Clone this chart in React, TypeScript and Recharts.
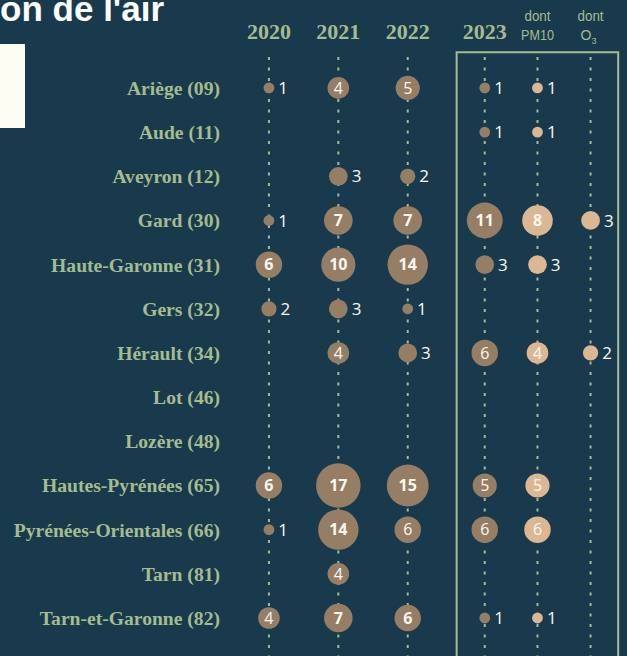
import { ScatterChart, Scatter, XAxis, YAxis, ReferenceLine, ReferenceArea } from "recharts";

const BG = "#193a4d";
const GREEN = "#a5bc8e";
const BROWN = "#967e65";
const TAN = "#dbb792";

const DEPTS = [
  "Ariège (09)",
  "Aude (11)",
  "Aveyron (12)",
  "Gard (30)",
  "Haute-Garonne (31)",
  "Gers (32)",
  "Hérault (34)",
  "Lot (46)",
  "Lozère (48)",
  "Hautes-Pyrénées (65)",
  "Pyrénées-Orientales (66)",
  "Tarn (81)",
  "Tarn-et-Garonne (82)",
];

const COLUMNS = ["2020", "2021", "2022", "2023", "PM10", "O3"];

const V2020 = [1, null, null, 1, 6, 2, null, null, null, 6, 1, null, 4];
const V2021 = [4, null, 3, 7, 10, 3, 4, null, null, 17, 14, 4, 7];
const V2022 = [5, null, 2, 7, 14, 1, 3, null, null, 15, 6, null, 6];
const V2023 = [1, 1, null, 11, 3, null, 6, null, null, 5, 6, null, 1];
const VPM10 = [1, 1, null, 8, 3, null, 4, null, null, 5, 6, null, 1];
const VO3 = [null, null, null, 3, null, null, 2, null, null, null, null, null, null];

// cells whose number is printed in bold ("column:row")
const BOLD = ["0:4", "0:9", "1:3", "1:4", "1:9", "1:10", "1:12", "2:3", "2:4", "2:9", "2:12", "3:3", "4:3"];

const SERIES = [V2020, V2021, V2022, V2023, VPM10, VO3];

// horizontal slot of each column (the 2023 block sits a bit apart and tighter)
const COL_POS = [0, 1, 2, 3.11, 3.87, 4.635];
const R_UNIT = 5.4;

function build(ci: number) {
  return SERIES[ci]
    .map((v, ri) => ({ x: COL_POS[ci], y: ri, value: v, bold: BOLD.includes(`${ci}:${ri}`) }))
    .filter((d) => d.value != null);
}

function bubble(fill: string) {
  return (props: any) => {
    const { cx, cy, payload } = props;
    const r = R_UNIT * Math.sqrt(payload.value);
    const inside = payload.value >= 4;
    return (
      <g>
        <circle cx={cx} cy={cy} r={r} fill={fill} />
        <text
          x={inside ? cx : cx + r + 4}
          y={cy}
          dy="0.36em"
          textAnchor={inside ? "middle" : "start"}
          fill="#fbf8f2"
          fontFamily="'Open Sans', sans-serif"
          fontSize={inside ? 16 : 17}
          fontWeight={payload.bold ? 700 : 400}
        >
          {payload.value}
        </text>
      </g>
    );
  };
}

const narrow = "'Liberation Sans Narrow', 'Arial Narrow', 'Liberation Sans', sans-serif";

function HeaderTick(props: any) {
  const { x, payload } = props;
  const i = COL_POS.indexOf(payload.value);
  const col = COLUMNS[i];
  if (i < 4) {
    return (
      <text x={x} y={39} textAnchor="middle" fill={GREEN} fontFamily="'Liberation Serif', serif" fontWeight={700} fontSize={22}>
        {col}
      </text>
    );
  }
  return (
    <g fill={GREEN} fontFamily={narrow} fontSize={14}>
      <text x={x} y={21} textAnchor="middle" textLength={26} lengthAdjust="spacingAndGlyphs">dont</text>
      {col === "PM10" ? (
        <text x={x} y={40} textAnchor="middle" textLength={33} lengthAdjust="spacingAndGlyphs">PM10</text>
      ) : (
        <text x={x - 2} y={40} textAnchor="middle">
          O<tspan fontSize={9} dy={4}>3</tspan>
        </text>
      )}
    </g>
  );
}

export default function App() {
  return (
    <div style={{ position: "fixed", left: 0, top: 0, width: 627, height: 656, overflow: "hidden", background: BG }}>
      <ScatterChart width={627} height={656} margin={{ top: 0, right: 0, bottom: 0, left: 0 }}>
        <XAxis
          type="number"
          dataKey="x"
          orientation="top"
          domain={[-0.59, 5.16]}
          ticks={COL_POS}
          interval={0}
          height={57}
          axisLine={false}
          tickLine={false}
          tick={<HeaderTick />}
          allowDataOverflow
        />
        <YAxis
          type="number"
          dataKey="y"
          domain={[-0.7, 12.86]}
          reversed
          ticks={DEPTS.map((_, i) => i)}
          interval={0}
          width={228}
          axisLine={false}
          tickLine={false}
          tickSize={0}
          tickMargin={8}
          tickFormatter={(i: number) => DEPTS[i]}
          tick={{ fill: GREEN, fontFamily: "'Liberation Serif', serif", fontWeight: 700, fontSize: 19.6 }}
          allowDataOverflow
        />
        {COL_POS.map((p) => (
          <ReferenceLine key={p} x={p} stroke={GREEN} strokeWidth={2} strokeDasharray="3 7.5" />
        ))}
        <ReferenceArea
          x1={2.705}
          x2={5.033}
          y1={-0.81}
          y2={13.2}
          ifOverflow="visible"
          fill="none"
          fillOpacity={0}
          stroke={GREEN}
          strokeWidth={2}
        />
        {COLUMNS.map((c, ci) => (
          <Scatter key={c} data={build(ci)} shape={bubble(ci >= 4 ? TAN : BROWN)} isAnimationActive={false} />
        ))}
      </ScatterChart>
      <svg width={627} height={140} style={{ position: "absolute", left: 0, top: 0, pointerEvents: "none" }}>
        <text x={164} y={21} textAnchor="end" fill="#ffffff" fontFamily="'Liberation Sans', Arial, sans-serif" fontWeight={700} fontSize={35}>
          Pollution de l'air
        </text>
        <rect x={0} y={44} width={25} height={84} fill="#fdfdf3" />
      </svg>
    </div>
  );
}
